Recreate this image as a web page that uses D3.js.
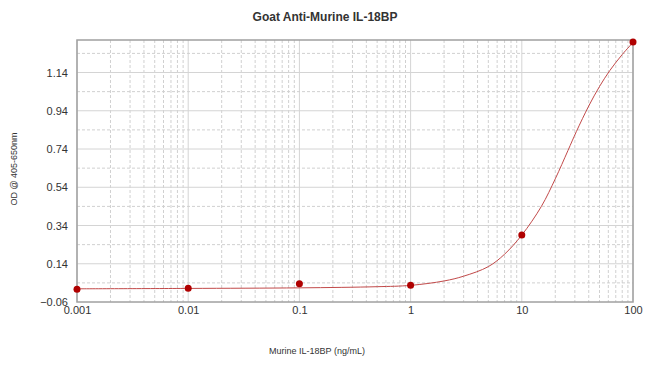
<!DOCTYPE html>
<html>
<head>
<meta charset="utf-8">
<script src="https://cdn.jsdelivr.net/npm/d3@7"></script>
<style>
  body { margin: 0; background: #fff; }
  svg { font-family: "Liberation Sans", Arial, sans-serif; }
</style>
</head>
<body>
<svg id="chart" width="650" height="367"></svg>
<script>
// measured standards
const conc = [0.001, 0.01, 0.1, 1, 10, 100];
const od = [0.007, 0.012, 0.036, 0.027, 0.29, 1.30];

// fitted curve
const curveConc = [0.001, 0.01, 0.1, 0.5, 1, 2, 3, 5, 7, 10, 15, 20, 26, 31, 40, 50, 62, 80, 100];
const curveOd = [0.009, 0.011, 0.014, 0.02, 0.027, 0.05, 0.075, 0.125, 0.19, 0.29, 0.44, 0.584, 0.732, 0.832, 0.965, 1.067, 1.151, 1.234, 1.297];

const yTicks = [-0.06, 0.14, 0.34, 0.54, 0.74, 0.94, 1.14];
const xTicks = [0.001, 0.01, 0.1, 1, 10, 100];
const xTickLabels = ["0.001", "0.01", "0.1", "1", "10", "100"];

const svg = d3.select("#chart");
const margin = { top: 40, right: 17, bottom: 65, left: 77 };
const width = +svg.attr("width");
const height = +svg.attr("height");
const innerWidth = width - margin.left - margin.right;
const innerHeight = height - margin.top - margin.bottom;

const xScale = d3.scaleLog().domain([0.001, 100]).range([0, innerWidth]);
const yScale = d3.scaleLinear().domain([-0.06, 1.31]).range([innerHeight, 0]);

const g = svg.append("g").attr("transform", `translate(${margin.left}, ${margin.top})`);

// minor vertical grid (2..9 in each decade)
const minorX = [];
for (let e = -3; e < 2; e++) {
  for (let m = 2; m <= 9; m++) minorX.push(m * Math.pow(10, e));
}
g.append("g").selectAll("line").data(minorX).enter().append("line")
  .attr("x1", d => xScale(d)).attr("x2", d => xScale(d))
  .attr("y1", 0).attr("y2", innerHeight)
  .attr("stroke", "#d0d0d0").attr("stroke-dasharray", "3,2");

// major vertical grid
g.append("g").selectAll("line").data(xTicks).enter().append("line")
  .attr("x1", d => xScale(d)).attr("x2", d => xScale(d))
  .attr("y1", 0).attr("y2", innerHeight)
  .attr("stroke", "#d4d4d4");

// horizontal grid: solid at ticks, dashed halfway between
const midY = yTicks.map(d => +(d + 0.1).toFixed(2));
g.append("g").selectAll("line").data(midY).enter().append("line")
  .attr("x1", 0).attr("x2", innerWidth)
  .attr("y1", d => yScale(d)).attr("y2", d => yScale(d))
  .attr("stroke", "#d0d0d0").attr("stroke-dasharray", "3,2");
g.append("g").selectAll("line").data(yTicks.slice(1)).enter().append("line")
  .attr("x1", 0).attr("x2", innerWidth)
  .attr("y1", d => yScale(d)).attr("y2", d => yScale(d))
  .attr("stroke", "#d4d4d4");

// frame
g.append("rect")
  .attr("width", innerWidth).attr("height", innerHeight)
  .attr("fill", "none").attr("stroke", "#a0a0a0").attr("stroke-width", 1.5);

// axes (labels only)
const yAxisG = g.append("g")
  .call(d3.axisLeft(yScale).tickValues(yTicks).tickFormat(d3.format(".2f")).tickSize(0).tickPadding(9));
yAxisG.select(".domain").remove();
yAxisG.selectAll("text").attr("fill", "#333").style("font-size", "11px");

const xAxisG = g.append("g")
  .attr("transform", `translate(0, ${innerHeight})`)
  .call(d3.axisBottom(xScale).tickValues(xTicks).tickFormat((d, i) => xTickLabels[i]).tickSize(0).tickPadding(4));
xAxisG.select(".domain").remove();
xAxisG.selectAll("text").attr("fill", "#333").style("font-size", "11px");

// fitted curve
const line = d3.line()
  .x((d, i) => xScale(curveConc[i]))
  .y(d => yScale(d))
  .curve(d3.curveCatmullRom.alpha(0.5));
g.append("path").datum(curveOd)
  .attr("d", line)
  .attr("fill", "none").attr("stroke", "#c24a4a").attr("stroke-width", 1);

// points
g.selectAll("circle.pt").data(od).enter().append("circle")
  .attr("class", "pt")
  .attr("cx", (d, i) => xScale(conc[i]))
  .attr("cy", d => yScale(d))
  .attr("r", 3.5)
  .attr("fill", "#b00000");

// titles
svg.append("text")
  .attr("x", 325).attr("y", 21)
  .attr("text-anchor", "middle")
  .style("font-size", "12px").style("font-weight", "bold").attr("fill", "#333")
  .text("Goat Anti-Murine IL-18BP");

svg.append("text")
  .attr("transform", `translate(17, ${margin.top + innerHeight / 2 - 2}) rotate(-90)`)
  .attr("text-anchor", "middle")
  .style("font-size", "9px").attr("fill", "#333")
  .text("OD @ 405-650nm");

svg.append("text")
  .attr("x", 317).attr("y", 354)
  .attr("text-anchor", "middle")
  .style("font-size", "9px").attr("fill", "#333")
  .text("Murine IL-18BP (ng/mL)");
</script>
</body>
</html>
